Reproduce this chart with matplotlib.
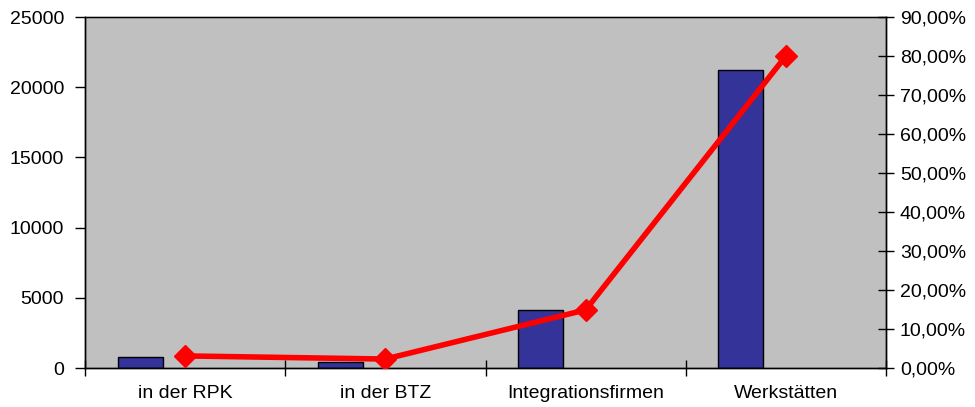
import numpy as np
import matplotlib.pyplot as plt
from matplotlib.ticker import FuncFormatter

plt.rcParams['font.family'] = ['Liberation Sans', 'DejaVu Sans']

# data
categories = ['in der RPK', 'in der BTZ', 'Integrationsfirmen', 'Werkstätten']
counts = [780, 430, 4100, 21200]
shares = [3.1, 2.3, 14.9, 80.0]

x = np.arange(len(categories))

fig = plt.figure(figsize=(9.75, 4.07), dpi=100)
ax = fig.add_axes([0.0872, 0.0958, 0.8215, 0.8624])
ax.set_facecolor('#C0C0C0')

# bars sit in the left slot of each category
ax.bar(x - 0.225, counts, width=0.225, color='#333399', edgecolor='black', linewidth=1, zorder=2)
ax.set_xlim(-0.5, len(categories) - 0.5)
ax.set_ylim(0, 25000)
ax.set_yticks(range(0, 25001, 5000))
ax.set_xticks(x)
ax.set_xticklabels(categories)
ax.set_xticks(np.arange(-0.5, len(categories), 1), minor=True)
ax.tick_params(axis='x', which='major', length=0, pad=12, labelsize=14)
ax.tick_params(axis='x', which='minor', direction='inout', length=12, width=1)
ax.tick_params(axis='y', direction='out', length=7, width=1, pad=8, labelsize=14)

ax2 = ax.twinx()
ax2.plot(x, shares, color='#FF0000', linewidth=4, marker='D', markersize=11, zorder=3)
ax2.set_ylim(0, 90)
ax2.set_yticks(range(0, 91, 10))
ax2.yaxis.set_major_formatter(FuncFormatter(lambda v, p: f'{v:.2f}'.replace('.', ',') + '%'))
ax2.tick_params(axis='y', direction='inout', length=12, width=1, pad=4, labelsize=14)

for a in (ax, ax2):
    for s in a.spines.values():
        s.set_color('black')
        s.set_linewidth(1)
ax.spines['top'].set_color('#808080')

fig.savefig('out.png', dpi=100)
